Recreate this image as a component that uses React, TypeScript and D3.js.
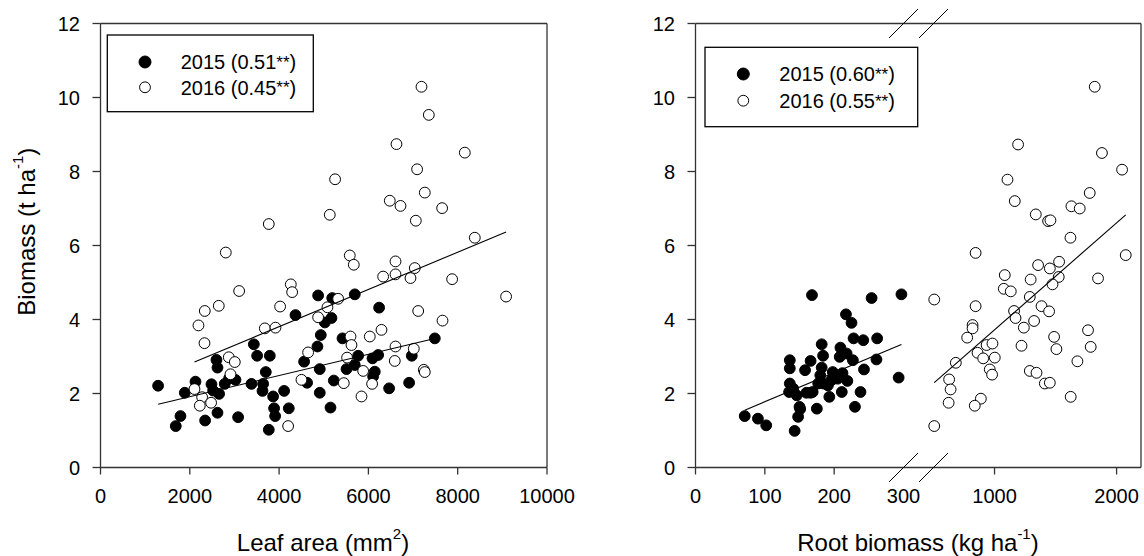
import React from "react";
import * as d3 from "d3";

// ---- data -------------------------------------------------------------
const YEARS = ["2015", "2016"];
const LEAF_R2 = ["0.51", "0.45"];
const ROOT_R2 = ["0.60", "0.55"];

const Y_TICKS = [0, 2, 4, 6, 8, 10, 12];
const LEAF_TICKS = [0, 2000, 4000, 6000, 8000, 10000];
const ROOT_TICKS = [0, 100, 200, 300, 1000, 2000];

// leaf area (mm2) vs biomass (t/ha)
const LEAF_2015: [number, number][] = [
  [1290, 2.21], [1686, 1.12], [1791, 1.39], [1888, 2.02], [2127, 2.32], [2343, 1.27],
  [2485, 2.25], [2522, 2.08], [2620, 1.48], [2597, 2.91], [2620, 2.7], [2656, 1.99],
  [2783, 2.26], [2881, 2.41], [3023, 2.37], [3082, 1.36], [3381, 2.26], [3434, 3.33],
  [3508, 3.02], [3642, 2.26], [3628, 2.07], [3702, 2.58], [3792, 3.02], [3769, 1.02],
  [3866, 1.92], [3888, 1.6], [3911, 1.39], [4112, 2.07], [4217, 1.6], [4367, 4.12],
  [4560, 2.86], [4627, 2.29], [4859, 3.27], [4911, 2.66], [4911, 2.02], [4934, 3.58],
  [5024, 3.92], [4874, 4.65], [5190, 4.58], [5695, 4.68], [6240, 4.32],
  [5173, 4.04], [5420, 3.49], [5151, 1.62], [5225, 2.35], [5510, 2.66], [5770, 3.02],
  [5695, 2.77], [6092, 2.95], [6218, 3.04], [6143, 2.59], [6106, 2.46], [6464, 2.14],
  [6912, 2.29], [6972, 3.02], [7487, 3.49],
];
const LEAF_2016: [number, number][] = [
  [2806, 5.81], [3105, 4.77], [2336, 4.23], [2649, 4.37], [2194, 3.84], [2329, 3.36],
  [2873, 2.98], [3008, 2.85], [2911, 2.52], [2105, 2.12], [2276, 1.9], [2224, 1.67],
  [2477, 1.75], [3680, 3.76], [3919, 3.78], [4023, 4.35], [4262, 4.95], [4292, 4.74],
  [4874, 4.06], [5083, 4.33], [4650, 3.11], [4501, 2.37], [4202, 1.12], [3769, 6.58],
  [5583, 5.73], [5673, 5.48], [6607, 5.57], [6330, 5.16], [6607, 5.22], [6943, 5.12],
  [7039, 5.39], [7875, 5.09], [8383, 6.21], [9084, 4.62], [5322, 4.56], [7115, 4.23],
  [7660, 3.97], [6031, 3.54], [6293, 3.72], [5599, 3.54], [5621, 3.31], [6607, 3.27],
  [7017, 3.21], [5523, 2.97], [6591, 2.88], [5882, 2.61], [7241, 2.64], [7263, 2.58],
  [5449, 2.28], [6083, 2.26], [5845, 1.92], [7189, 10.29], [7353, 9.53], [6629, 8.74],
  [8159, 8.51], [7091, 8.06], [5254, 7.79], [7263, 7.43], [6479, 7.21], [6719, 7.07],
  [7651, 7.01], [5135, 6.83], [7062, 6.67],
];

// root biomass (kg/ha) vs biomass (t/ha)
const ROOT_2015: [number, number][] = [
  [71, 1.39], [90, 1.32], [102, 1.14], [143, 0.99], [148, 1.37], [151, 1.58], [175, 1.59],
  [136, 2.9], [136, 2.68], [136, 2.27], [135, 2.04], [141, 2.13], [146, 1.95], [158, 2.63],
  [166, 2.88], [168, 4.66], [160, 2.02], [169, 2.04], [182, 3.33], [184, 3.02], [182, 2.7],
  [180, 2.49], [184, 2.27], [177, 2.27], [191, 2.22], [193, 1.91], [198, 2.58], [196, 2.36],
  [209, 3.24], [208, 2.99], [218, 3.08], [217, 4.14], [225, 3.91], [228, 3.49], [242, 3.44],
  [262, 3.49], [227, 2.9], [243, 2.65], [261, 2.92], [254, 4.58], [297, 4.68], [293, 2.43],
  [238, 2.04], [230, 1.64], [219, 2.34], [211, 2.04], [166, 2.02], [150, 1.64], [205, 2.4],
  [212, 2.55],
];
const ROOT_2016: [number, number][] = [
  [506, 4.54], [506, 1.12], [628, 2.38], [640, 2.11], [624, 1.75], [683, 2.83], [845, 5.8],
  [845, 4.36], [820, 3.85], [820, 3.76], [776, 3.51], [888, 1.86], [838, 1.67], [861, 3.1],
  [907, 2.95], [935, 3.31], [983, 3.35], [1002, 2.97], [961, 2.65], [980, 2.51], [1084, 5.2],
  [1076, 4.83], [1133, 4.76], [1160, 4.23], [1172, 4.04], [1221, 3.29], [1240, 3.78],
  [1296, 5.08], [1289, 4.61], [1324, 3.96], [1289, 2.61], [1344, 2.56], [1357, 5.47],
  [1453, 5.38], [1529, 5.56], [1526, 5.15], [1475, 4.95], [1385, 4.36], [1447, 4.22],
  [1412, 2.27], [1453, 2.29], [1488, 3.53], [1507, 3.2], [1622, 6.21], [1624, 1.91],
  [1679, 2.87], [1766, 3.71], [1788, 3.26], [1848, 5.11], [2075, 5.74], [1821, 10.29],
  [1193, 8.73], [1880, 8.5], [2045, 8.05], [1106, 7.78], [1166, 7.2], [1338, 6.84],
  [1439, 6.66], [1458, 6.68], [1630, 7.06], [1698, 7.0], [1780, 7.42],
];

// linear fits: [intercept, slope]
const LEAF_FIT_2015 = [1.337, 0.000287];
const LEAF_FIT_2016 = [1.794, 0.000503];
const ROOT_FIT_2015 = [0.992, 0.00786];
const ROOT_FIT_2016 = [0.833, 0.00289];

// ---- layout -----------------------------------------------------------
const W = 1144;
const H = 556;
const TOP = 23.5;
const BOTTOM = 467.5;
const FONT = "Arial, 'Liberation Sans', Helvetica, sans-serif";
const AXIS = "#333";
const R = 5.4;

const yScale = d3.scaleLinear().domain([0, 12]).range([BOTTOM, TOP]);

type Pt = [number, number];

interface PanelProps {
  x: d3.ScaleLinear<number, number>;
  left: number;
  right: number;
  xTicks: number[];
  s2015: Pt[];
  s2016: Pt[];
  fit2015: number[];
  fit2016: number[];
  r2: string[];
  legend: { x: number; y: number; w: number; h: number; mx: number; tx: number; rows: number[] };
  breakAt?: number[];
  xTitle: React.ReactNode;
  xTitleX: number;
}

function FitLine({ data, fit, x }: { data: Pt[]; fit: number[]; x: d3.ScaleLinear<number, number> }) {
  const [x0, x1] = d3.extent(data, (d) => d[0]) as [number, number];
  const line = d3
    .line<number>()
    .x((v) => x(v))
    .y((v) => yScale(fit[0] + fit[1] * v));
  return <path d={line([x0, x1]) || ""} fill="none" stroke="#000" strokeWidth={1.1} />;
}

function Panel(p: PanelProps) {
  const { x, left, right, legend } = p;
  return (
    <g fontFamily={FONT}>
      {/* frame */}
      <line x1={left} x2={right} y1={TOP} y2={TOP} stroke={AXIS} strokeWidth={1.3} />
      <line x1={right} x2={right} y1={TOP} y2={BOTTOM} stroke={AXIS} strokeWidth={1.3} />
      <line x1={left} x2={left} y1={TOP} y2={BOTTOM} stroke={AXIS} strokeWidth={1.3} />
      <line x1={left} x2={right} y1={BOTTOM} y2={BOTTOM} stroke={AXIS} strokeWidth={1.3} />

      {/* y axis */}
      {Y_TICKS.map((t) => (
        <g key={"y" + t}>
          <line x1={left - 8} x2={left} y1={yScale(t)} y2={yScale(t)} stroke={AXIS} strokeWidth={1.3} />
          <text x={left - 20.5} y={yScale(t) + 7.2} fontSize={20} textAnchor="end" fill="#000">
            {t}
          </text>
        </g>
      ))}

      {/* x axis */}
      {p.xTicks.map((t) => (
        <g key={"x" + t}>
          {!(p.breakAt && p.breakAt.includes(t)) && (
            <line x1={x(t)} x2={x(t)} y1={BOTTOM} y2={BOTTOM + 7} stroke={AXIS} strokeWidth={1.3} />
          )}
          <text x={x(t)} y={502.7} fontSize={20} textAnchor="middle" fill="#000">
            {t}
          </text>
        </g>
      ))}

      {/* axis break marks */}
      {p.breakAt &&
        p.breakAt.map((b) =>
          [TOP, BOTTOM].map((cy) => (
            <line
              key={"b" + b + cy}
              x1={x(b) - 14.5}
              y1={cy + 14.5}
              x2={x(b) + 14.5}
              y2={cy - 14.5}
              stroke="#000"
              strokeWidth={1}
            />
          ))
        )}

      {/* points */}
      {p.s2015.map((d, i) => (
        <circle key={"a" + i} cx={x(d[0])} cy={yScale(d[1])} r={R} fill="#000" stroke="#000" strokeWidth={1} />
      ))}
      {p.s2016.map((d, i) => (
        <circle key={"b" + i} cx={x(d[0])} cy={yScale(d[1])} r={R} fill="#fff" stroke="#000" strokeWidth={1} />
      ))}

      {/* regression lines */}
      <FitLine data={p.s2015} fit={p.fit2015} x={x} />
      <FitLine data={p.s2016} fit={p.fit2016} x={x} />

      {/* legend */}
      <rect x={legend.x} y={legend.y} width={legend.w} height={legend.h} fill="#fff" stroke="#000" strokeWidth={1.3} />
      {YEARS.map((yr, i) => (
        <g key={yr}>
          <circle
            cx={legend.mx}
            cy={legend.rows[i]}
            r={i === 0 ? 6 : 5.4}
            fill={i === 0 ? "#000" : "#fff"}
            stroke="#000"
            strokeWidth={1}
          />
          <text x={legend.tx} y={legend.rows[i] + 7.3} fontSize={20} fill="#000">
            <tspan>{`${yr} (${p.r2[i]}`}</tspan>
            <tspan fontSize={17} dy={-1.5}>**</tspan>
            <tspan dy={1.5}>)</tspan>
          </text>
        </g>
      ))}

      {/* x title */}
      <text x={p.xTitleX} y={550.7} fontSize={24} textAnchor="middle" fill="#000">
        {p.xTitle}
      </text>
    </g>
  );
}

export default function App() {
  const leafX = d3.scaleLinear().domain([0, 10000]).range([100.5, 547]);
  const rootX = d3.scaleLinear().domain([0, 300, 500, 2200]).range([695.5, 903.5, 933.5, 1141]);

  return (
    <svg
      width={W}
      height={H}
      viewBox={`0 0 ${W} ${H}`}
      style={{ position: "absolute", left: 0, top: 0, background: "#fff" }}
    >
      <rect x={0} y={0} width={W} height={H} fill="#fff" />
      <Panel
        x={leafX}
        left={100.5}
        right={547}
        xTicks={LEAF_TICKS}
        s2015={LEAF_2015}
        s2016={LEAF_2016}
        fit2015={LEAF_FIT_2015}
        fit2016={LEAF_FIT_2016}
        r2={LEAF_R2}
        legend={{ x: 107.3, y: 35, w: 206, h: 76.7, mx: 145, tx: 180.7, rows: [62, 87.3] }}
        xTitleX={323}
        xTitle={
          <>
            <tspan>Leaf area (mm</tspan>
            <tspan fontSize={15} dy={-11.4}>2</tspan>
            <tspan dy={11.4}>)</tspan>
          </>
        }
      />
      <Panel
        x={rootX}
        left={695.5}
        right={1141}
        xTicks={ROOT_TICKS}
        s2015={ROOT_2015}
        s2016={ROOT_2016}
        fit2015={ROOT_FIT_2015}
        fit2016={ROOT_FIT_2016}
        r2={ROOT_R2}
        breakAt={[300, 500]}
        legend={{ x: 705, y: 47.3, w: 212.7, h: 79.4, mx: 743.3, tx: 779.3, rows: [74, 100.7] }}
        xTitleX={918}
        xTitle={
          <>
            <tspan>Root biomass (kg ha</tspan>
            <tspan fontSize={15} dy={-11.4}>-1</tspan>
            <tspan dy={11.4}>)</tspan>
          </>
        }
      />
      {/* y title */}
      <text
        transform="translate(34.5,231.7) rotate(-90)"
        fontFamily={FONT}
        fontSize={24}
        textAnchor="middle"
        fill="#000"
      >
        <tspan>Biomass (t ha</tspan>
        <tspan fontSize={15} dy={-11.4}>-1</tspan>
        <tspan dy={11.4}>)</tspan>
      </text>
    </svg>
  );
}
